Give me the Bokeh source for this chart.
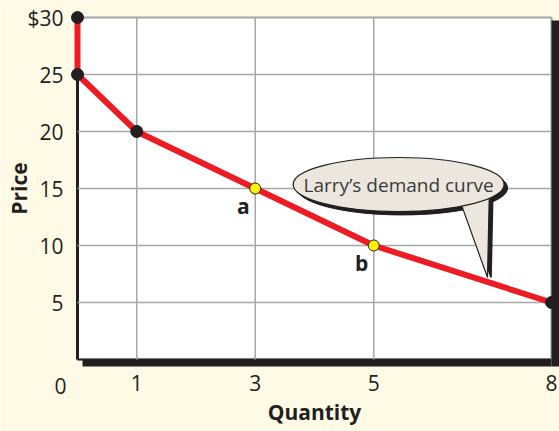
from bokeh.plotting import figure
from bokeh.models import FixedTicker, Range1d, ColumnDataSource, BoxAnnotation
from bokeh.core.properties import value
from bokeh.embed import file_html
from bokeh.resources import INLINE

# ---- data ----
quantity = [0, 0, 1, 3, 5, 8]
price = [30, 25, 20, 15, 10, 5]
black_q = [0, 0, 1, 8]
black_p = [30, 25, 20, 5]
point_q = [3, 5]
point_p = [15, 10]
point_names = ["a", "b"]
x_ticks = [1, 3, 5, 8]
x_origin_label = "0"
y_ticks = [5, 10, 15, 20, 25, 30]
y_tick_labels = {30: "$30"}
bubble_text = "Larry\u2019s demand curve"

BG = "#fefae6"
INK = "#231f20"
FONT = "Open Sans"
W, H = 559, 431

# layout: plot box x 0..8 maps to px 77..551, y 0..30 maps to px 359..17
X0, X8, Y0, Y30 = 77, 551, 359, 17
XPX = (X8 - X0) / 8
YPX = (Y0 - Y30) / 30
p = figure(width=W, height=H,
           x_range=Range1d(-X0 / XPX, 8 + (W - X8) / XPX),
           y_range=Range1d(-(H - Y0) / YPX, 30 + Y30 / YPX),
           output_backend="svg", toolbar_location=None, min_border=0,
           background_fill_color=BG, border_fill_color=BG)
p.outline_line_color = None
p.grid.visible = False

# plot box (white area with border) and its drop shadow
p.add_layout(BoxAnnotation(left=0, right=8, bottom=0, top=30, fill_color="white", fill_alpha=1,
                           line_color=INK, line_width=2, level="image"))
p.add_layout(BoxAnnotation(left=5 / XPX, right=8, top=0, bottom=-7 / YPX, fill_color=INK,
                           fill_alpha=1, line_color=None, level="image"))
p.add_layout(BoxAnnotation(left=8, top=30 - 3 / YPX, bottom=-7 / YPX, fill_color=INK,
                           fill_alpha=1, line_color=None, level="annotation"))

# axes
xa = p.xaxis[0]
xa.fixed_location = 0
xa.bounds = (0, 8)
xa.level = "underlay"
xa.ticker = FixedTicker(ticks=x_ticks)
xa.axis_line_color = INK
xa.axis_line_width = 2
xa.major_tick_line_color = None
xa.minor_tick_line_color = None
xa.major_label_standoff = 9
xa.major_label_text_font = FONT
xa.major_label_text_font_size = "21px"
xa.major_label_text_color = INK
xa.axis_label = "Quantity"
xa.axis_label_text_font = FONT
xa.axis_label_text_font_style = "bold"
xa.axis_label_text_font_size = "21px"
xa.axis_label_text_color = INK
xa.axis_label_standoff = 4

ya = p.yaxis[0]
ya.fixed_location = 0
ya.bounds = (0, 30)
ya.level = "underlay"
ya.ticker = FixedTicker(ticks=y_ticks)
ya.major_label_overrides = y_tick_labels
ya.axis_line_color = INK
ya.axis_line_width = 3
ya.major_tick_line_color = None
ya.minor_tick_line_color = None
ya.major_label_standoff = 8
ya.major_label_text_font = FONT
ya.major_label_text_font_size = "21px"
ya.major_label_text_color = INK
ya.axis_label = "Price"
ya.axis_label_text_font = FONT
ya.axis_label_text_font_style = "bold"
ya.axis_label_text_font_size = "21px"
ya.axis_label_text_color = INK
ya.axis_label_standoff = -9

# grid lines at the tick positions
GRID = "#a7a7a7"
p.segment(x0=x_ticks, y0=[0] * len(x_ticks), x1=x_ticks, y1=[30] * len(x_ticks),
          line_color=GRID, line_width=1.5)
p.segment(x0=[0] * len(y_ticks), y0=y_ticks, x1=[8] * len(y_ticks), y1=y_ticks,
          line_color=GRID, line_width=1.5)

# origin label
p.text(x=[0], y=[0], text=[x_origin_label], x_offset=-17, y_offset=26,
       text_align="center", text_baseline="middle",
       text_font=value(FONT), text_font_size="21px", text_color=INK)

# demand curve
p.line(quantity, price, line_color="#ed1c24", line_width=6, line_join="round")
p.scatter(black_q, black_p, size=12, fill_color=INK, line_color=INK)
p.scatter(point_q, point_p, size=11, fill_color="#fff200", line_color=INK, line_width=1)
pts = ColumnDataSource(dict(x=point_q, y=point_p, t=point_names))
p.text("x", "y", text="t", source=pts, x_offset=-12, y_offset=17,
       text_align="center", text_baseline="middle",
       text_font=value(FONT), text_font_style="bold", text_font_size="21px", text_color=INK)

# speech bubble
bx, by, bw, bh = 5.42, 15.35, 3.56, 4.74
tail_x = [6.45, 6.95, 6.92]
tail_y = [14.0, 14.5, 7.19]
BUB = "#ebe7de"
p.patch([v + 0.06 for v in tail_x], tail_y, fill_color=INK, line_color=INK, line_width=1.5)
p.ellipse(x=bx + 0.06, y=by - 0.3, width=bw, height=bh, fill_color=INK, line_color=INK)
p.patch(tail_x, tail_y, fill_color=BUB, line_color=INK, line_width=1.2)
p.ellipse(x=bx, y=by, width=bw, height=bh, fill_color=BUB, line_color=INK, line_width=1.2)
p.text(x=[bx], y=[by], text=[bubble_text], text_align="center", text_baseline="middle",
       text_font=value(FONT), text_font_size="19px", text_color="#3a3a3a")

open("out.html", "w").write(file_html(p, INLINE))
